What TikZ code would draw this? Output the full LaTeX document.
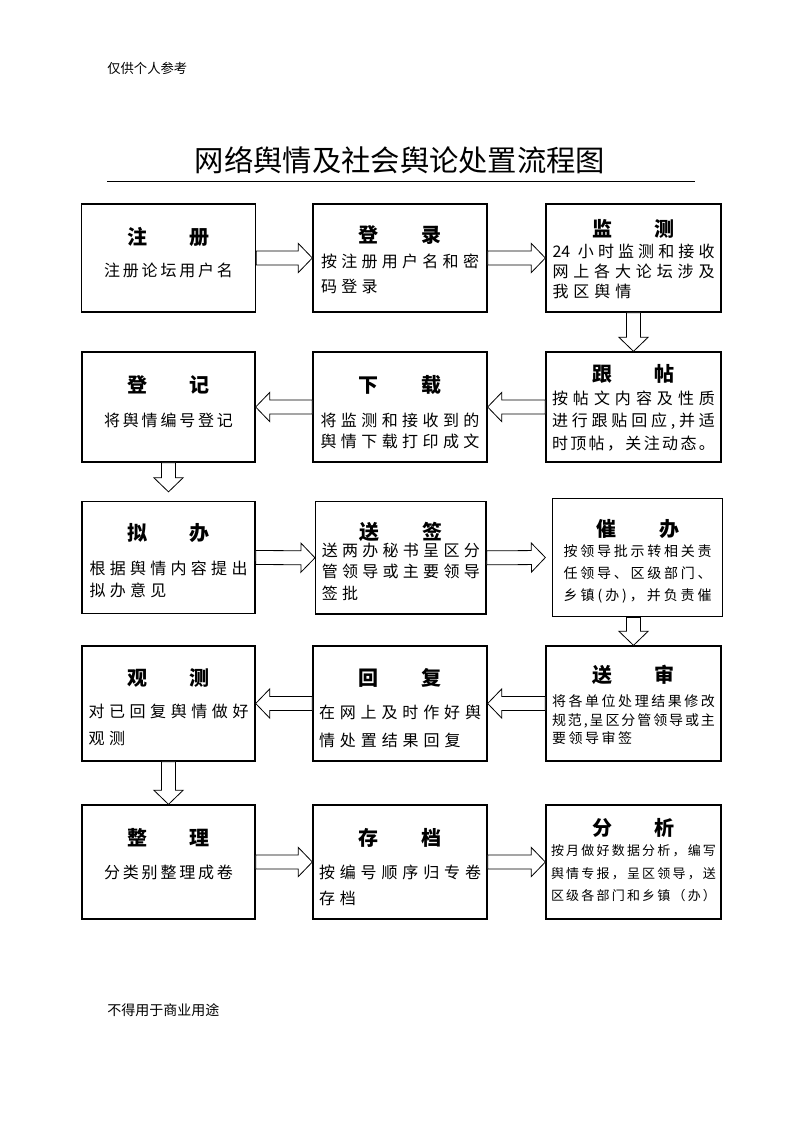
\documentclass[tikz,border=0pt]{standalone}
\usepackage{fontspec}
\setmainfont{Noto Sans CJK SC}
\usetikzlibrary{calc}

\newlength{\bodyw}
\newlength{\cgap}
\makeatletter
\def\jl@a#1#2\jl@end{#1\ifx\relax#2\relax\else\jl@sep\jl@a#2\jl@end\fi}
\newcommand{\jline}[1]{\makebox[\bodyw][s]{\let\jl@sep\hfil\jl@a#1\jl@end}}
\newcommand{\lline}[1]{\makebox[\bodyw][l]{\def\jl@sep{\hspace{\cgap}}\jl@a#1\jl@end}}
\newcommand{\sline}[1]{{\def\jl@sep{\hspace{\cgap}}\jl@a#1\jl@end}}
\makeatother
\newcommand{\steptitle}[2]{{\fontsize{15pt}{15pt}\selectfont\bfseries #1\hspace{32pt}#2}}

\tikzset{
  stepbox/.style={draw, line width=1pt, inner sep=0pt, align=center,
    minimum width=130.5pt, minimum height=81pt},
  bodyfont/.style 2 args={font=\fontsize{#1}{#2}\selectfont},
  lastline/.style={text height=#1, text depth=0pt},
  bw/.code={\setlength{\bodyw}{#1}},
  cg/.code={\setlength{\cgap}{#1}},
  blockarrow/.style={draw, line width=0.6pt, fill=white, to path={
    ($(\tikztostart)!5.25pt!90:(\tikztotarget)$)
    -- ($(\tikztotarget)!10.5pt!(\tikztostart)!5.25pt!-90:(\tikztostart)$)
    -- ($(\tikztotarget)!10.5pt!(\tikztostart)!10.9pt!-90:(\tikztostart)$)
    -- (\tikztotarget)
    -- ($(\tikztotarget)!10.5pt!(\tikztostart)!10.9pt!90:(\tikztostart)$)
    -- ($(\tikztotarget)!10.5pt!(\tikztostart)!5.25pt!90:(\tikztostart)$)
    -- ($(\tikztostart)!5.25pt!-90:(\tikztotarget)$)
    -- cycle}}
}

\begin{document}
\begin{tikzpicture}[x=0.75pt,y=-0.75pt]
\useasboundingbox (0,0) rectangle (793,1122);

\node[anchor=west, inner sep=0pt, font=\fontsize{10pt}{12pt}\selectfont] (cankao) at (107,68) {仅供个人参考};
\node[inner sep=0pt, font=\fontsize{22pt}{26pt}\selectfont] (biaoti) at (400,160) {网络舆情及社会舆论处置流程图};
\draw[line width=0.75pt] (107,181) -- (695,181);

\node[stepbox, lastline=27.2pt, bodyfont={12pt}{23.9pt}, cg=2.1pt] (zhuce) at (168.5,258)
  {\steptitle{注}{册}\\\sline{注册论坛用户名}};
\node[stepbox, lastline=52.2pt, bodyfont={12pt}{18.75pt}, bw=118.5pt, cg=3.2pt] (denglu) at (400,258)
  {\steptitle{登}{录}\\\jline{按注册用户名和密}\\\lline{码登录}};
\node[stepbox, minimum width=131.25pt, lastline=58.6pt, bodyfont={12pt}{14.75pt}, bw=121.5pt, cg=3.7pt] (jiance) at (633.5,258)
  {\steptitle{监}{测}\\[1.15pt]\jline{{24 }小时监测和接收}\\\jline{网上各大论坛涉及}\\\lline{我区舆情}};

\node[stepbox, minimum width=131.25pt, minimum height=82.5pt, lastline=63.6pt, bodyfont={12pt}{16.9pt}, bw=122.25pt] (gentie) at (633.5,407)
  {\steptitle{跟}{帖}\\\jline{按帖文内容及性质}\\\jline{进行跟贴回应,并适}\\\jline{时顶帖，关注动态。}};
\node[stepbox, minimum height=82.5pt, lastline=61.2pt, bodyfont={12pt}{16.25pt}, bw=119.25pt] (xiazai) at (400,407)
  {\steptitle{下}{载}\\[8.9pt]\jline{将监测和接收到的}\\\jline{舆情下载打印成文}};
\node[stepbox, minimum width=129.75pt, minimum height=82.5pt, lastline=28.6pt, bodyfont={12pt}{25.15pt}, cg=2.1pt] (dengji) at (168.5,407)
  {\steptitle{登}{记}\\\sline{将舆情编号登记}};

\node[stepbox, minimum width=129.75pt, minimum height=84pt, lastline=57.9pt, bodyfont={12pt}{16.25pt}, bw=118.5pt, cg=3.2pt] (niban) at (168.5,557.5)
  {\steptitle{拟}{办}\\[8.9pt]\jline{根据舆情内容提出}\\\lline{拟办意见}};
\node[stepbox, minimum width=127.75pt, minimum height=84.25pt, lastline=62.4pt, bodyfont={12pt}{16.25pt}, bw=118.5pt, cg=3.2pt] (songqian) at (400.8,557.8)
  {\steptitle{送}{签}\\[-3.6pt]\jline{送两办秘书呈区分}\\\jline{管领导或主要领导}\\\lline{签批}};
\node[stepbox, minimum width=127.5pt, minimum height=88.8pt, lastline=64.2pt, bodyfont={10.5pt}{16.3pt}, bw=111pt] (cuiban) at (637.7,557.5)
  {\steptitle{催}{办}\\[-1.2pt]\jline{按领导批示转相关责}\\\jline{任领导、区级部门、}\\\jline{乡镇(办)，并负责催}};

\node[stepbox, minimum width=131.25pt, minimum height=86.25pt, lastline=60.2pt, bodyfont={10.5pt}{13.75pt}, bw=122.25pt, cg=1.9pt] (songshen) at (633.5,703.5)
  {\steptitle{送}{审}\\[4.55pt]\jline{将各单位处理结果修改}\\\jline{规范,呈区分管领导或主}\\\lline{要领导审签}};
\node[stepbox, minimum height=86.25pt, lastline=63.9pt, bodyfont={12pt}{20.5pt}, bw=121.5pt, cg=3.7pt] (huifu) at (400,703.5)
  {\steptitle{回}{复}\\[4.2pt]\jline{在网上及时作好舆}\\\lline{情处置结果回复}};
\node[stepbox, minimum width=129.75pt, minimum height=86.25pt, lastline=61.4pt, bodyfont={12pt}{20pt}, bw=120pt, cg=3.4pt] (guance) at (168.5,703.5)
  {\steptitle{观}{测}\\[3.9pt]\jline{对已回复舆情做好}\\\lline{观测}};

\node[stepbox, minimum width=129.75pt, minimum height=85.5pt, lastline=24.2pt, bodyfont={12pt}{24.4pt}, cg=2.1pt] (zhengli) at (168.5,862)
  {\steptitle{整}{理}\\\sline{分类别整理成卷}};
\node[stepbox, minimum height=85.5pt, lastline=63.6pt, bodyfont={12pt}{19.2pt}, bw=121.5pt, cg=3.7pt] (cundang) at (400,862)
  {\steptitle{存}{档}\\[5.5pt]\jline{按编号顺序归专卷}\\\lline{存档}};
\node[stepbox, minimum width=131.25pt, minimum height=85.5pt, lastline=58.4pt, bodyfont={9.75pt}{16.9pt}, bw=123.75pt] (fenxi) at (633.5,862)
  {\steptitle{分}{析}\\[-1.65pt]\jline{按月做好数据分析，编写}\\\jline{舆情专报，呈区领导，送}\\\jline{区级各部门和乡镇（办）}};

\node[anchor=west, inner sep=0pt, font=\fontsize{10.5pt}{12pt}\selectfont] (yongtu) at (107,1010) {不得用于商业用途};

\coordinate (nibantop) at ([yshift=6.75pt]niban.north);
\coordinate (cuibanleft) at ([xshift=-5pt]cuiban.west);
\coordinate (cuibanout) at (cuiban.south -| songshen.north);

\draw[blockarrow] (zhuce.east) to (denglu.west);
\draw[blockarrow] (denglu.east) to (jiance.west);
\draw[blockarrow] (jiance.south) to (gentie.north);
\draw[blockarrow] (gentie.west) to (xiazai.east);
\draw[blockarrow] (xiazai.west) to (dengji.east);
\draw[blockarrow] (dengji.south) to (nibantop);
\draw[blockarrow] (niban.east) to (songqian.west);
\draw[blockarrow] (songqian.east) to (cuibanleft);
\draw[blockarrow] (cuibanout) to (songshen.north);
\draw[blockarrow] (songshen.west) to (huifu.east);
\draw[blockarrow] (huifu.west) to (guance.east);
\draw[blockarrow] (guance.south) to (zhengli.north);
\draw[blockarrow] (zhengli.east) to (cundang.west);
\draw[blockarrow] (cundang.east) to (fenxi.west);
\end{tikzpicture}
\end{document}
